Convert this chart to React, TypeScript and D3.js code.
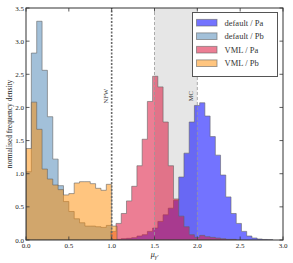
import React, { useEffect, useRef } from 'react';
import * as d3 from 'd3';

// bin setup for each group (Pb: 0..1 in 1/16 steps, Pa: from 0.99)
const pbStart = 0;
const pbWidth = 0.0625;
const paStart = 0.99;
const paWidth = 0.061;

const defaultPa = [0, 0.01, 0.02, 0.025, 0.035, 0.06, 0.08, 0.13, 0.18, 0.28, 0.38, 0.48, 0.6, 0.95, 1.31, 1.78,
  2.03, 2.07, 1.87, 1.56, 1.28, 0.98, 0.65, 0.4, 0.25, 0.13, 0.06, 0.03, 0.015, 0.008, 0.005];
const defaultPb = [1.03, 2.82, 3.3, 2.56, 1.86, 1.22, 0.82, 0.58, 0.43, 0.32, 0.26, 0.21, 0.21, 0.2, 0.19, 0.22];
const vmlPa = [0.13, 0.25, 0.4, 0.59, 0.81, 1.12, 1.52, 2.09, 2.47, 2.31, 1.78, 1.12, 0.62, 0.36, 0.2, 0.08,
  0.04, 0.07, 0.05, 0.04, 0.03, 0.02, 0.01, 0.01];
const vmlPb = [1.38, 2.08, 1.67, 1.07, 0.92, 0.83, 0.76, 0.68, 0.7, 0.86, 0.88, 0.88, 0.85, 0.78, 0.75, 0.84, 0.21];

const seriesNames = ['default / Pa', 'default / Pb', 'VML / Pa', 'VML / Pb'];
const seriesColors = ['#0000ff', '#4682b4', '#dc143c', '#ff8c00'];
const seriesAlpha = [0.55, 0.5, 0.55, 0.5];

const xTicks = [0, 0.5, 1.0, 1.5, 2.0, 2.5, 3.0];
const yTicks = [0, 0.5, 1.0, 1.5, 2.0, 2.5, 3.0, 3.5];
const markers = [
  { label: 'NFW', value: 1.0 },
  { label: 'MC', value: 2.0 },
];
const band = [1.5, 2.0];

const font = '"Liberation Serif", "DejaVu Serif", serif';

const App = () => {
  const ref = useRef<SVGSVGElement>(null);
  const width = 293;
  const height = 263;
  const margin = { top: 8, right: 10, bottom: 23, left: 26 };

  useEffect(() => {
    const svg = d3.select(ref.current);
    svg.selectAll('*').remove();

    const x = d3.scaleLinear().domain([0, 3]).range([margin.left, width - margin.right]);
    const y = d3.scaleLinear().domain([0, 3.5]).range([height - margin.bottom, margin.top]);
    const [x0, x1] = x.range();
    const [y0, y1] = y.range();

    svg.append('defs').append('clipPath').attr('id', 'plot-clip')
      .append('rect').attr('x', x0).attr('y', y1).attr('width', x1 - x0).attr('height', y0 - y1);

    const plot = svg.append('g').attr('clip-path', 'url(#plot-clip)');

    // shaded band between the two lines
    plot.append('rect')
      .attr('x', x(band[0]))
      .attr('y', y1)
      .attr('width', x(band[1]) - x(band[0]))
      .attr('height', y0 - y1)
      .attr('fill', '#e6e6e6');

    const area = d3.area<{ e: number; v: number }>()
      .x((d) => x(d.e))
      .y0(y(0))
      .y1((d) => y(d.v))
      .curve(d3.curveStepAfter);

    const toSteps = (values: number[], start: number, w: number) => {
      const pts = values.map((v, i) => ({ e: start + i * w, v }));
      pts.push({ e: start + values.length * w, v: values[values.length - 1] });
      return pts;
    };

    const all = [
      toSteps(defaultPa, paStart, paWidth),
      toSteps(defaultPb, pbStart, pbWidth),
      toSteps(vmlPa, paStart, paWidth),
      toSteps(vmlPb, pbStart, pbWidth),
    ];

    all.forEach((pts, i) => {
      plot.append('path')
        .attr('d', area(pts))
        .attr('fill', seriesColors[i])
        .attr('fill-opacity', seriesAlpha[i])
        .attr('stroke', '#666')
        .attr('stroke-opacity', 0.6)
        .attr('stroke-width', 1);
    });

    // reference lines
    band.forEach((v) => {
      plot.append('line')
        .attr('x1', x(v)).attr('x2', x(v))
        .attr('y1', y0).attr('y2', y1)
        .attr('stroke', '#999')
        .attr('stroke-opacity', 0.8)
        .attr('stroke-dasharray', '3,2')
        .attr('stroke-width', 1);
    });
    plot.append('line')
      .attr('x1', x(1.0)).attr('x2', x(1.0))
      .attr('y1', y0).attr('y2', y1)
      .attr('stroke', '#6a6a6a')
      .attr('stroke-dasharray', '2,1.5')
      .attr('stroke-width', 1.6);

    markers.forEach((m) => {
      const tx = x(m.value) - 4;
      const ty = y(2.17);
      svg.append('text')
        .attr('transform', `translate(${tx},${ty}) rotate(-90)`)
        .attr('text-anchor', 'middle')
        .style('font-family', font)
        .style('font-size', '6.5px')
        .attr('fill', '#333')
        .text(m.label);
    });

    // frame
    svg.append('rect')
      .attr('x', x0).attr('y', y1)
      .attr('width', x1 - x0).attr('height', y0 - y1)
      .attr('fill', 'none')
      .attr('stroke', '#333')
      .attr('stroke-width', 1);

    // ticks, inward on all sides
    const tl = 3.5;
    xTicks.forEach((t) => {
      svg.append('line').attr('x1', x(t)).attr('x2', x(t)).attr('y1', y0).attr('y2', y0 - tl)
        .attr('stroke', '#333').attr('stroke-width', 0.8);
      svg.append('line').attr('x1', x(t)).attr('x2', x(t)).attr('y1', y1).attr('y2', y1 + tl)
        .attr('stroke', '#333').attr('stroke-width', 0.8);
      svg.append('text')
        .attr('x', x(t)).attr('y', y0 + 8)
        .attr('text-anchor', 'middle')
        .style('font-family', font).style('font-size', '7px')
        .attr('fill', '#222')
        .text(d3.format('.1f')(t));
    });
    yTicks.forEach((t) => {
      svg.append('line').attr('x1', x0).attr('x2', x0 + tl).attr('y1', y(t)).attr('y2', y(t))
        .attr('stroke', '#333').attr('stroke-width', 0.8);
      svg.append('line').attr('x1', x1).attr('x2', x1 - tl).attr('y1', y(t)).attr('y2', y(t))
        .attr('stroke', '#333').attr('stroke-width', 0.8);
      svg.append('text')
        .attr('x', x0 - 2).attr('y', y(t) + 2.5)
        .attr('text-anchor', 'end')
        .style('font-family', font).style('font-size', '7px')
        .attr('fill', '#222')
        .text(d3.format('.1f')(t));
    });

    // axis labels
    svg.append('text')
      .attr('transform', `translate(12,${(y0 + y1) / 2}) rotate(-90)`)
      .attr('text-anchor', 'middle')
      .style('font-family', font).style('font-size', '7.5px')
      .attr('fill', '#222')
      .text('normalised frequency density');

    const xl = svg.append('text')
      .attr('x', (x0 + x1) / 2).attr('y', y0 + 17)
      .attr('text-anchor', 'middle')
      .style('font-family', font).style('font-size', '8px')
      .attr('fill', '#222');
    xl.append('tspan').attr('font-style', 'italic').text('μ');
    xl.append('tspan').attr('font-style', 'italic').attr('dy', 2).style('font-size', '6px').text('γ′');

    // legend
    const lg = svg.append('g').attr('transform', 'translate(192.5,12.5)');
    lg.append('rect')
      .attr('width', 85).attr('height', 64)
      .attr('fill', '#fff')
      .attr('stroke', '#555')
      .attr('stroke-width', 1);
    seriesNames.forEach((name, i) => {
      const ry = 10.2 + i * 13.5;
      lg.append('rect')
        .attr('x', 4).attr('y', ry - 3.3)
        .attr('width', 20.5).attr('height', 6.6)
        .attr('fill', seriesColors[i]).attr('fill-opacity', seriesAlpha[i])
        .attr('stroke', '#666').attr('stroke-opacity', 0.6);
      lg.append('text')
        .attr('x', 32).attr('y', ry + 2.9)
        .style('font-family', font).style('font-size', '8.5px')
        .attr('fill', '#333')
        .text(name);
    });
  }, []);

  return (
    <svg ref={ref} width={width} height={height}
      style={{ position: 'absolute', left: 0, top: 0, background: '#fff' }} />
  );
};

export default App;
